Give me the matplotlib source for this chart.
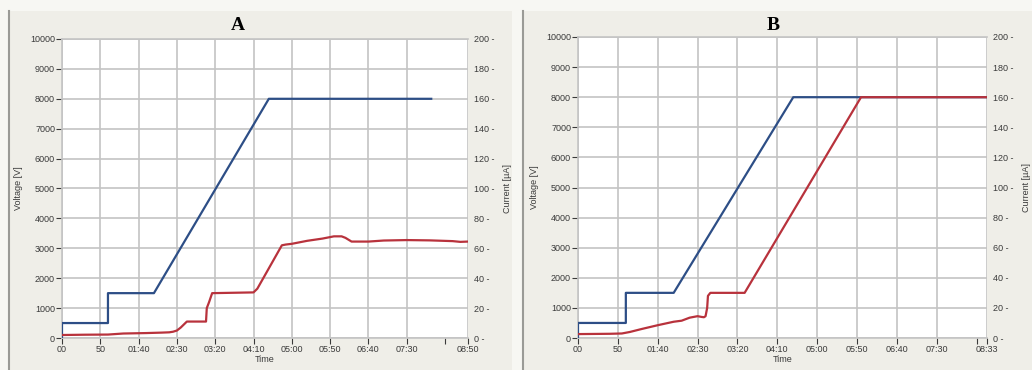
import numpy as np
import matplotlib.pyplot as plt
from matplotlib.patches import Rectangle
from matplotlib.lines import Line2D

# run A: time [s], voltage [V], current [uA]
t_va = [0, 0, 60, 60, 120, 270, 482]
va = [0, 500, 500, 1500, 1500, 8000, 8000]
t_ia = [0, 30, 60, 80, 110, 130, 140, 145, 150, 155, 160, 163, 188, 189, 192, 196,
        250, 255, 287, 292, 300, 320, 340, 355, 365, 370, 378, 400, 420, 450, 480, 510, 520, 530]
ia = [2.0, 2.2, 2.3, 3.0, 3.3, 3.6, 3.8, 4.2, 5.0, 7.0, 9.5, 11.0, 11.0, 20.0, 24.0, 30.0,
      30.5, 33.0, 62.0, 62.5, 63.0, 65.0, 66.5, 68.0, 68.0, 67.0, 64.5, 64.5, 65.2, 65.5, 65.3, 64.8, 64.3, 64.5]

# run B
t_vb = [0, 0, 60, 60, 120, 270, 513]
vb = [0, 500, 500, 1500, 1500, 8000, 8000]
t_ib = [0, 40, 55, 65, 80, 100, 120, 130, 140, 150, 155, 158, 160, 162, 163, 166, 209, 355, 513]
ib = [2.6, 2.8, 3.0, 4.0, 6.0, 8.5, 10.8, 11.5, 13.5, 14.5, 14.0, 13.8, 14.5, 20.0, 28.0, 30.0, 30.0, 160, 160]

xticks = list(range(0, 500, 50))
xlabels = ["00", "50", "01:40", "02:30", "03:20", "04:10", "05:00", "05:50", "06:40", "07:30"]
v_ticks = list(range(0, 10001, 1000))
i_ticks = list(range(0, 201, 20))

W, H = 1032, 370
plt.rcParams['font.family'] = ['Liberation Sans', 'DejaVu Sans']
fig = plt.figure(figsize=(W / 100, H / 100), dpi=100)
fig.patch.set_facecolor('#f7f7f3')

def px(x0, y0, x1, y1):
    return [x0 / W, 1 - y1 / H, (x1 - x0) / W, (y1 - y0) / H]

# panel backgrounds with a darker left border
for x0, x1 in [(9, 512), (523, 1032)]:
    fig.add_artist(Rectangle((x0 / W, 0), (x1 - x0) / W, 1 - 11 / H, transform=fig.transFigure,
                             facecolor='#efeee8', edgecolor='none', zorder=0))
    fig.add_artist(Line2D([x0 / W, x0 / W], [0, 1 - 11 / H], transform=fig.transFigure,
                          color='#9a9a96', lw=1.5, zorder=1))

blue = '#2d4e86'
red = '#b8323c'
grid_c = '#c4c4c4'
tick_c = '#3a3a3a'

def panel(rect, t_v, v, t_i, cur, t_end, end_label, title, title_x):
    ax = fig.add_axes(rect)
    ax.set_facecolor('white')
    ax.plot(t_v, v, color=blue, lw=1.6, zorder=3)
    ax.set_xlim(0, t_end)
    ax.set_ylim(0, 10000)
    ax.set_xticks(xticks + [t_end])
    ax.set_xticklabels(xlabels + [end_label])
    ax.set_xticks([500], minor=True)
    ax.set_yticks(v_ticks)
    ax.set_yticklabels([str(k) for k in v_ticks])
    ax.grid(True, which='major', color=grid_c, lw=1.2)
    ax.tick_params(axis='both', which='both', labelsize=6.5, colors=tick_c, length=4, width=0.8, pad=1)
    ax.tick_params(axis='x', which='minor', length=4, width=0.8)
    for s in ax.spines.values():
        s.set_color(grid_c)
        s.set_linewidth(1.2)
    ax.spines['right'].set_visible(False)
    ax.set_xlabel("Time", fontsize=6.5, color=tick_c, labelpad=1)
    ax.set_ylabel("Voltage [V]", fontsize=6.5, color=tick_c, labelpad=5)

    ax2 = ax.twinx()
    ax2.plot(t_i, cur, color=red, lw=1.6, zorder=3)
    ax2.set_ylim(0, 200)
    ax2.set_yticks(i_ticks)
    ax2.set_yticklabels([f"{k} -" for k in i_ticks])
    ax2.tick_params(axis='y', labelsize=6.5, colors=tick_c, length=0, pad=4)
    for s in ax2.spines.values():
        s.set_visible(False)
    ax2.set_ylabel("Current [µA]", fontsize=6.5, color=tick_c, labelpad=6)

    fig.text(title_x / W, 1 - 25 / H, title, fontsize=14, fontweight='bold',
             family='Liberation Serif', ha='center', va='center')
    return ax

panel(px(62, 39, 468, 338), t_va, va, t_ia, ia, 530, "08:50", "A", 238)
panel(px(578, 37, 987, 338), t_vb, vb, t_ib, ib, 513, "08:33", "B", 773)

fig.savefig("out.png", dpi=100, facecolor=fig.get_facecolor())
